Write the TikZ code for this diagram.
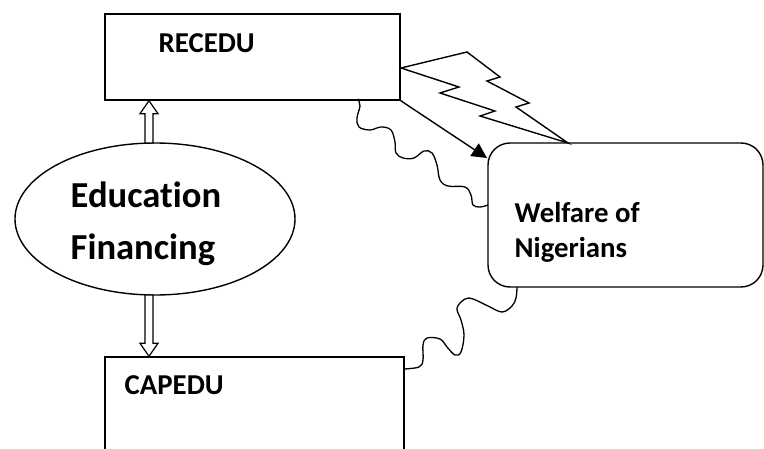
\documentclass[tikz,border=0pt]{standalone}
\usepackage{fontspec}
\setmainfont{Carlito}[Ligatures={NoCommon,NoContextual}]
\usetikzlibrary{arrows.meta,shapes.geometric,calc}
\newcommand\hollowarr[3]{%
  \path[hollow] let \p1=(#1), \p2=(#2) in
   ({\x1-4pt},\y1) -- ({\x1-4pt},{\y2+(#3)}) -- ({\x1-9pt},{\y2+(#3)}) -- (\x1,\y2)
   -- ({\x1+9pt},{\y2+(#3)}) -- ({\x1+4pt},{\y2+(#3)}) -- ({\x1+4pt},\y1) -- cycle;}
\begin{document}
\begin{tikzpicture}[x=1pt,y=-1pt, line width=1.4pt, line join=miter,
  box/.style={draw, rectangle, inner sep=0pt},
  lbl/.style={anchor=base west, inner sep=0pt, font=\fontsize{28.8}{35}\selectfont\bfseries},
  big/.style={anchor=base west, inner sep=0pt, font=\fontsize{36.6}{44}\selectfont\bfseries},
  wave/.style={line width=1.3pt},
  hollow/.style={draw, fill=white, line width=1.2pt}
]
\clip (0,0) rectangle (764,449);
% boxes
\node[box, minimum width=295pt, minimum height=86pt] (rec) at (252.5,57) {};
\node[box, minimum width=299pt, minimum height=120pt] (cap) at (254.5,417) {};
\node[draw, ellipse, minimum width=280pt, minimum height=152pt, inner sep=0pt] (ell) at (155,219) {};
\node[box, rounded corners=22pt, minimum width=275pt, minimum height=144pt] (wel) at (625.5,215) {};
% texts
\node[lbl] (t1) at (158,53) {RECEDU};
\node[lbl] (t2) at (124,395) {CAPEDU};
\node[lbl] (t3) at (514,223) {Welfare of};
\node[lbl] (t4) at (514,258) {Nigerians};
\begin{scope}
\clip (0,0) rectangle (764,266);
\node[big] (t5) at (70,208) {Education};
\node[big] (t6) at (70,260) {Financing};
\end{scope}
% named coordinates
\coordinate (ua1) at (149,143);
\coordinate (ua2) at ($(rec.south west)+(44,0)$);
\coordinate (la1) at (149,295);
\coordinate (la2) at ($(cap.north west)+(44,0)$);
\coordinate (wtip) at (487,158);
\coordinate (b1) at (401,68);
\coordinate (b7) at (568,143);
\coordinate (w1a) at (358,99);
\coordinate (w1b) at (488,205);
\coordinate (w2a) at (517,287);
\coordinate (w2b) at (404,369);
% hollow double arrows
\hollowarr{ua1}{ua2}{-13pt}
\hollowarr{la1}{la2}{13pt}
% black arrow
\draw[-{Triangle[length=15pt,width=15pt]}] (rec.south east) -- (wtip);
% lightning bolt
\draw (b1) -- (467,52) -- (500,77) -- (487,81) -- (529,103) -- (516,107) -- (b7)
  -- (480,116) -- (495,111) -- (440,93) -- (459,87) -- cycle;
% wavy connectors
\draw[wave] plot[smooth, tension=0.6] coordinates {(w1a) (360,106) (357,118) (359,127) (370,130) (381,127) (391,130) (395,142) (396,153) (403,158) (414,158) (424,151) (432,153) (437,165) (440,180) (448,186) (465,187) (471,195) (473,205) (480,207) (w1b)};
\draw[wave] plot[smooth, tension=0.6] coordinates {(w2a) (516,298) (512,306) (502,312) (488,306) (473,299) (465,299) (457,308) (461,320) (464,335) (461,352) (455,355) (447,347) (440,339) (427,338) (423,345) (423,360) (419,367) (w2b)};
\end{tikzpicture}
\end{document}
